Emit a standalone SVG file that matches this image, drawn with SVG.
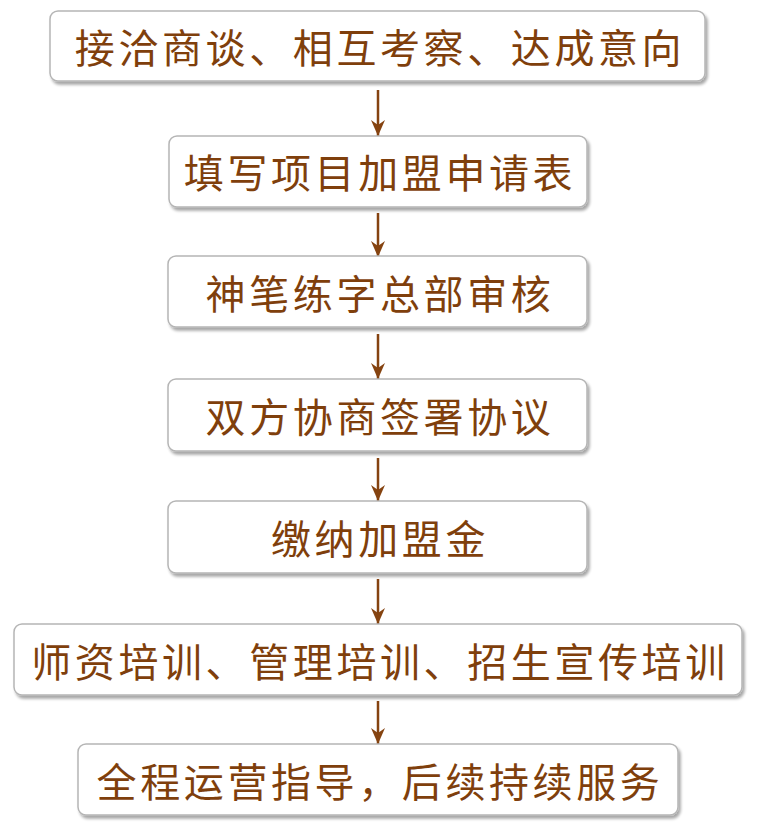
<svg xmlns="http://www.w3.org/2000/svg" width="757" height="824" viewBox="0 0 757 824">
<defs>
<filter id="sh" x="-5%" y="-20%" width="110%" height="150%">
<feGaussianBlur in="SourceAlpha" stdDeviation="1.5"/>
<feOffset dx="1.5" dy="3" result="b"/>
<feComponentTransfer><feFuncA type="linear" slope="0.35"/></feComponentTransfer>
<feMerge><feMergeNode/><feMergeNode in="SourceGraphic"/></feMerge>
</filter>
<marker id="ah" viewBox="0 0 16 14" refX="16" refY="7" markerWidth="16" markerHeight="14" markerUnits="userSpaceOnUse" orient="auto">
<path d="M0,0 L16,7 L0,14 L5,7 Z" fill="#854310"/>
</marker>
</defs>
<style>
.box{fill:#fff;stroke:#b5b5b5;stroke-width:1.5;filter:url(#sh)}
.t{font-family:"Noto Sans CJK SC","Noto Sans CJK JP",sans-serif;font-size:40px;fill:#7f3f0c;text-anchor:middle;dominant-baseline:central;letter-spacing:3.6px}
.c{stroke:#854310;stroke-width:2.5;fill:none}
</style>
<g id="connectors">
<path class="c" d="M378,90 V136" marker-end="url(#ah)"/>
<path class="c" d="M378,213 V257" marker-end="url(#ah)"/>
<path class="c" d="M378,334 V379" marker-end="url(#ah)"/>
<path class="c" d="M378,458 V501" marker-end="url(#ah)"/>
<path class="c" d="M378,579 V624" marker-end="url(#ah)"/>
<path class="c" d="M378,701 V744" marker-end="url(#ah)"/>
</g>
<g id="n1"><rect class="box" x="50" y="11" width="655" height="70" rx="8"/><text class="t" x="380" y="46">接洽商谈、相互考察、达成意向</text></g>
<g id="n2"><rect class="box" x="169" y="136" width="418" height="71" rx="8"/><text class="t" x="380" y="171">填写项目加盟申请表</text></g>
<g id="n3"><rect class="box" x="168" y="256" width="419" height="71" rx="8"/><text class="t" x="380" y="292">神笔练字总部审核</text></g>
<g id="n4"><rect class="box" x="168" y="379" width="419" height="72" rx="8"/><text class="t" x="380" y="415">双方协商签署协议</text></g>
<g id="n5"><rect class="box" x="168" y="501" width="419" height="72" rx="8"/><text class="t" x="380" y="537">缴纳加盟金</text></g>
<g id="n6"><rect class="box" x="14" y="624" width="728" height="71" rx="8"/><text class="t" x="380" y="660">师资培训、管理培训、招生宣传培训</text></g>
<g id="n7"><rect class="box" x="78" y="744" width="600" height="71" rx="8"/><text class="t" x="380" y="780">全程运营指导，后续持续服务</text></g>
</svg>
